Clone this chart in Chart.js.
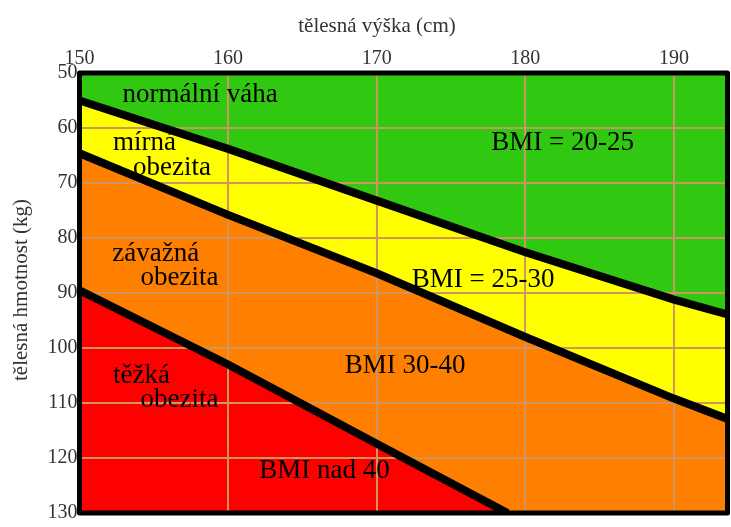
<!DOCTYPE html>
<meta charset="utf-8">
<html>
  <head>
    <script src="https://cdn.jsdelivr.net/npm/chart.js"></script>
    <style>
      body { margin: 0; background: #fff; }
    </style>
  </head>
  <body>
    <canvas id="bmi-chart" width="731" height="527"></canvas>
  </body>

  <script>
    // heights (cm) on x, weights (kg) on y
    const heightMin = 150;
    const heightMax = 193.6;
    const weightMin = 50;
    const weightMax = 130;
    const heightTicks = [150, 160, 170, 180, 190];

    const topEdgeHeights = [150, 193.6];
    const topEdgeWeights = [50, 50];

    const line25Heights = [150, 160, 170, 180, 190, 193.6];
    const line25Weights = [55, 63.8, 73.2, 82.6, 91.2, 93.9];

    const line30Heights = [150, 160, 170, 180, 190, 193.6];
    const line30Weights = [64.6, 75.8, 86.4, 98.0, 109.2, 112.9];

    const line40Heights = [150, 160, 170, 178.8];
    const line40Weights = [89.5, 103, 117.4, 130];

    // region labels: text, height (left edge), weight (baseline)
    const labelTexts = ['normální váha', 'mírná', 'obezita', 'závažná', 'obezita', 'těžká', 'obezita',
                        'BMI = 20-25', 'BMI = 25-30', 'BMI 30-40', 'BMI nad 40'];
    const labelHeights = [152.9, 152.25, 153.6, 152.2, 154.1, 152.25, 154.1, 177.7, 172.35, 167.85, 162.1];
    const labelWeights = [55.3, 64.0, 68.6, 84.1, 88.6, 106.4, 110.8, 64.0, 88.9, 104.6, 123.6];

    const xTitle = 'tělesná výška (cm)';
    const yTitle = 'tělesná hmotnost (kg)';

    function toPoints(xs, ys) {
      return xs.map(function(x, i) { return { x: x, y: ys[i] }; });
    }

    const serif = "'Liberation Serif', 'DejaVu Serif', serif";

    // frame, region labels and axis titles
    const decorations = {
      id: 'decorations',
      afterDatasetsDraw(chart) {
        const ctx = chart.ctx;
        const a = chart.chartArea;
        const xs = chart.scales.x;
        const ys = chart.scales.y;

        ctx.save();
        ctx.fillStyle = '#000';
        ctx.font = '27px ' + serif;
        ctx.textAlign = 'left';
        ctx.textBaseline = 'alphabetic';
        for (let i = 0; i < labelTexts.length; i++) {
          ctx.fillText(labelTexts[i], xs.getPixelForValue(labelHeights[i]), ys.getPixelForValue(labelWeights[i]));
        }

        ctx.lineWidth = 5;
        ctx.lineJoin = 'round';
        ctx.strokeStyle = '#000';
        ctx.strokeRect(a.left, a.top, a.right - a.left, a.bottom - a.top);

        ctx.fillStyle = '#333';
        ctx.font = '21px ' + serif;
        ctx.textAlign = 'center';
        ctx.textBaseline = 'middle';
        ctx.fillText(xTitle, 377, 26);
        ctx.translate(21, 290);
        ctx.rotate(-Math.PI / 2);
        ctx.fillText(yTitle, 0, 0);
        ctx.restore();
      }
    };

    const lineStyle = {
      borderColor: '#000',
      borderWidth: 8,
      pointRadius: 0,
      tension: 0,
    };

    const data = {
      datasets: [
        Object.assign({ label: 'BMI 40', data: toPoints(line40Heights, line40Weights),
          backgroundColor: '#ff0000', fill: { value: weightMax } }, lineStyle),
        Object.assign({ label: 'BMI 30', data: toPoints(line30Heights, line30Weights),
          backgroundColor: '#ff8000', fill: { value: weightMax } }, lineStyle),
        Object.assign({ label: 'BMI 25', data: toPoints(line25Heights, line25Weights),
          backgroundColor: '#ffff00', fill: { value: weightMax } }, lineStyle),
        {
          label: 'normální váha',
          data: toPoints(topEdgeHeights, topEdgeWeights),
          backgroundColor: '#30c810',
          borderWidth: 0,
          pointRadius: 0,
          fill: { value: weightMax },
        },
      ]
    };

    const tickFont = { family: serif, size: 20 };

    const config = {
      type: 'line',
      data: data,
      options: {
        responsive: false,
        animation: false,
        layout: { padding: { top: 0, left: 0, right: 3.5, bottom: 4.5 } },
        plugins: {
          legend: { display: false },
          tooltip: { enabled: false },
          filler: { drawTime: 'beforeDraw' },
        },
        scales: {
          x: {
            type: 'linear',
            position: 'top',
            min: heightMin,
            max: heightMax,
            afterBuildTicks(scale) {
              scale.ticks = heightTicks.map(function(v) { return { value: v }; });
            },
            ticks: { font: tickFont, color: '#333', padding: 2 },
            grid: { color: 'rgb(205,150,95)', lineWidth: 2, drawTicks: false },
            border: { display: false },
            afterFit(scale) { scale.height = 73; scale.paddingRight = 0; },
          },
          y: {
            type: 'linear',
            reverse: true,
            min: weightMin,
            max: weightMax,
            ticks: { stepSize: 10, font: tickFont, color: '#333', padding: 2 },
            grid: { color: 'rgb(205,150,95)', lineWidth: 2, drawTicks: false },
            border: { display: false },
            afterFit(scale) { scale.width = 79.5; },
          }
        }
      },
      plugins: [decorations]
    };

    new Chart(document.getElementById('bmi-chart'), config);
  </script>
</html>
